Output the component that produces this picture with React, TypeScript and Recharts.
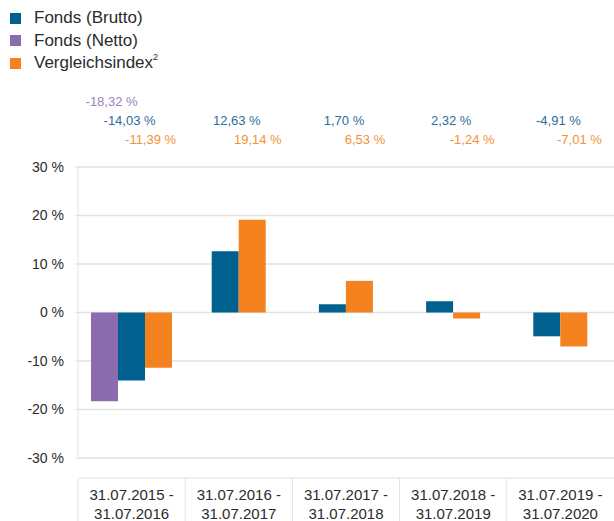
import { BarChart, Bar, XAxis, YAxis, CartesianGrid, Rectangle } from "recharts";

// Wertentwicklung je Jahreszeitraum, Werte in %
const periods = [
  "31.07.2015 - 31.07.2016",
  "31.07.2016 - 31.07.2017",
  "31.07.2017 - 31.07.2018",
  "31.07.2018 - 31.07.2019",
  "31.07.2019 - 31.07.2020",
];
const fondsNetto: Array<number | null> = [-18.32, null, null, null, null];
const fondsBrutto = [-14.03, 12.63, 1.7, 2.32, -4.91];
const vergleichsindex = [-11.39, 19.14, 6.53, -1.24, -7.01];
const yTicks = [-30, -20, -10, 0, 10, 20, 30];

const COLORS = {
  netto: "#8b6daf",
  brutto: "#00608f",
  index: "#f4821f",
  nettoText: "#9c83c2",
  bruttoText: "#2a6e9a",
  indexText: "#f39236",
  grid: "#e2e2e2",
  text: "#2b2b2b",
};

const FONT = '"Liberation Sans", Arial, sans-serif';
const CHART_W = 614;
const CHART_H = 540;
const Y_AXIS_W = 78;
const BAND = (CHART_W - Y_AXIS_W) / periods.length;

const data = periods.map((name, i) => ({
  name,
  netto: fondsNetto[i],
  brutto: fondsBrutto[i],
  index: vergleichsindex[i],
}));

const fmt = (v: number) => v.toFixed(2).replace(".", ",") + " %";

// bars move half a slot left when there is no Netto value, so the pair stays centred
function ShiftedBar(props: any) {
  const dx = props.payload?.netto == null ? -props.width / 2 : 0;
  return <Rectangle {...props} x={props.x + dx} />;
}

function TopValues({ x, y, index }: any) {
  const n = fondsNetto[index];
  return (
    <g fontFamily={FONT} fontSize={13} textAnchor="middle">
      {n != null && (
        <text x={x - 20} y={y - 64} dy="0.35em" fill={COLORS.nettoText}>
          {fmt(n)}
        </text>
      )}
      <text x={x - 2} y={y - 45} dy="0.35em" fill={COLORS.bruttoText}>
        {fmt(fondsBrutto[index])}
      </text>
      <text x={x + 19} y={y - 26} dy="0.35em" fill={COLORS.indexText}>
        {fmt(vergleichsindex[index])}
      </text>
    </g>
  );
}

function PeriodTick({ x, y, payload }: any) {
  const [from, to] = String(payload.value).split(" - ");
  const left = x - BAND / 2;
  return (
    <g>
      <line x1={left} x2={left + BAND} y1={y + 18} y2={y + 18} stroke={COLORS.grid} />
      <line x1={left} x2={left} y1={y + 18} y2={y + 90} stroke={COLORS.grid} />
      <text x={x} y={y + 35} dy="0.35em" textAnchor="middle" fontFamily={FONT} fontSize={15} fill={COLORS.text}>
        {from + " -"}
      </text>
      <text x={x} y={y + 54} dy="0.35em" textAnchor="middle" fontFamily={FONT} fontSize={15} fill={COLORS.text}>
        {to}
      </text>
    </g>
  );
}

const legendItems = [
  { label: "Fonds (Brutto)", color: COLORS.brutto },
  { label: "Fonds (Netto)", color: COLORS.netto },
  { label: "Vergleichsindex", color: COLORS.index, sup: "2" },
];

export default function App() {
  return (
    <div
      style={{
        position: "absolute",
        left: 0,
        top: 0,
        width: 614,
        height: 521,
        overflow: "hidden",
        background: "#fff",
        fontFamily: FONT,
      }}
    >
      <div style={{ position: "absolute", left: 10, top: 7 }}>
        {legendItems.map((it) => (
          <div key={it.label} style={{ display: "flex", alignItems: "center", height: 22.5, fontSize: 17, color: COLORS.text }}>
            <span style={{ width: 11, height: 11, background: it.color, marginRight: 13, display: "inline-block" }} />
            <span>
              {it.label}
              {it.sup && <sup style={{ fontSize: 9, verticalAlign: "top", position: "relative", top: -1 }}>{it.sup}</sup>}
            </span>
          </div>
        ))}
      </div>
      <BarChart
        width={CHART_W}
        height={CHART_H}
        data={data}
        margin={{ top: 0, right: 0, bottom: 0, left: 0 }}
        barCategoryGap={13}
        barGap={0}
      >
        <CartesianGrid vertical={false} stroke={COLORS.grid} strokeWidth={1.5} />
        <XAxis
          xAxisId="top"
          orientation="top"
          dataKey="name"
          height={167}
          axisLine={false}
          tickLine={false}
          tickSize={0}
          interval={0}
          tick={<TopValues />}
        />
        <XAxis
          xAxisId="main"
          dataKey="name"
          height={82}
          axisLine={false}
          tickLine={false}
          tickSize={0}
          interval={0}
          tick={<PeriodTick />}
        />
        <YAxis
          width={Y_AXIS_W}
          domain={[-30, 30]}
          ticks={yTicks}
          tickFormatter={(v) => `${v} %`}
          axisLine={{ stroke: COLORS.grid }}
          tickLine={{ stroke: COLORS.grid }}
          tickSize={3}
          tickMargin={11}
          tick={{ fill: COLORS.text, fontSize: 14, fontFamily: FONT }}
        />
        <Bar xAxisId="main" dataKey="netto" fill={COLORS.netto} isAnimationActive={false} />
        <Bar xAxisId="main" dataKey="brutto" fill={COLORS.brutto} shape={<ShiftedBar />} isAnimationActive={false} />
        <Bar xAxisId="main" dataKey="index" fill={COLORS.index} shape={<ShiftedBar />} isAnimationActive={false} />
      </BarChart>
    </div>
  );
}
